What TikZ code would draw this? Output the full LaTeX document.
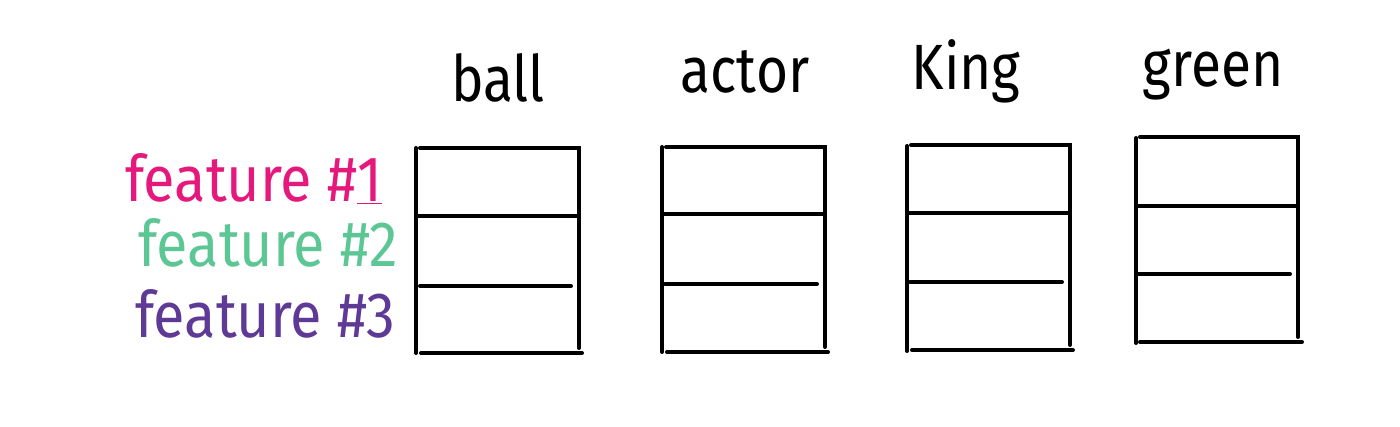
\documentclass[tikz,border=0pt]{standalone}
\usepackage{fontspec}
\setmainfont{Fira Sans}
\definecolor{fone}{HTML}{E5197B}
\definecolor{ftwo}{HTML}{5CC794}
\definecolor{fthree}{HTML}{5E3A96}
\newcommand{\narrow}[2]{\scalebox{#1}[1]{#2}}
\tikzset{
  pen/.style={line width=4pt, line cap=round, black},
  word/.style={font=\fontsize{64}{70}\selectfont, inner sep=0pt, anchor=base},
  feat/.style={font=\fontsize{64}{70}\selectfont, inner sep=0pt, anchor=base west},
}
\begin{document}
\begin{tikzpicture}[x=1pt,y=-1pt]
\useasboundingbox (0,0) rectangle (1400,427);
% word labels
\node[word] (ball) at (498,102) {\narrow{0.86}{ball}};
\node[word] (actor) at (745,93) {\narrow{0.86}{actor}};
\node[word] (king) at (966,90) {\narrow{0.86}{King}};
\node[word] (green) at (1213,87) {\narrow{0.86}{green}};
% feature labels
\node[feat, text=fone] (f1) at (125,202) {\narrow{0.9}{feature \#\underline{1}}};
\node[feat, text=ftwo] (f2) at (138,267) {\narrow{0.9}{feature \#2}};
\node[feat, text=fthree] (f3) at (135,338) {\narrow{0.9}{feature \#3}};
% ball box
\draw[pen] (416,148) -- (416,353);
\draw[pen] (420,148) -- (579,148) -- (579,348);
\draw[pen] (418,216) -- (577,216);
\draw[pen] (420,286) -- (571,286);
\draw[pen] (421,353) -- (582,353);
% actor box
\draw[pen] (662,147) -- (662,352);
\draw[pen] (666,147) -- (825,147) -- (825,347);
\draw[pen] (664,214) -- (823,214);
\draw[pen] (665,284) -- (817,284);
\draw[pen] (667,352) -- (828,352);
% King box
\draw[pen] (907,146) -- (907,351);
\draw[pen] (911,145) -- (1070,145) -- (1070,345);
\draw[pen] (909,213) -- (1068,213);
\draw[pen] (910,282) -- (1062,282);
\draw[pen] (912,350) -- (1073,350);
% green box
\draw[pen] (1136,138) -- (1136,343);
\draw[pen] (1140,137) -- (1298,137) -- (1298,337);
\draw[pen] (1138,206) -- (1296,206);
\draw[pen] (1138,274) -- (1290,274);
\draw[pen] (1140,342) -- (1302,342);
\end{tikzpicture}
\end{document}
